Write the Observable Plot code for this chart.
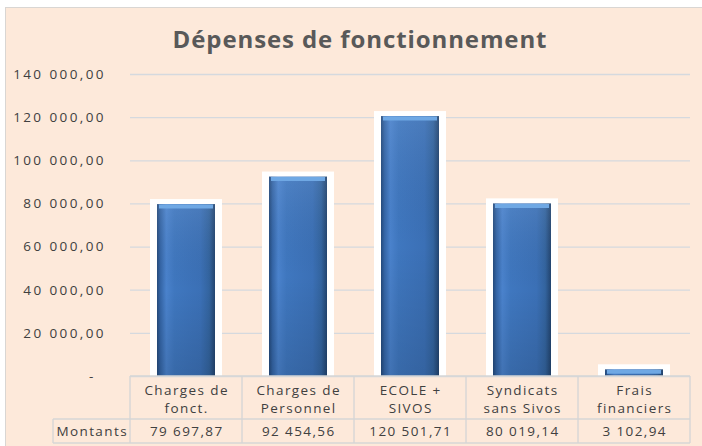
<!DOCTYPE html>
<html><head><meta charset="utf-8">
<script src="https://cdn.jsdelivr.net/npm/d3@7"></script>
<script src="https://cdn.jsdelivr.net/npm/@observablehq/plot@0.6"></script>
<style>
html,body{margin:0;padding:0;background:#fff;}
#wrap{position:relative;width:702px;height:446px;overflow:hidden;background:#fff;}
#bg{position:absolute;left:5px;top:7px;right:0;bottom:0;background:#fde9da;border-left:1.5px solid #d9d6d3;border-top:1.5px solid #d9d6d3;}
#title{position:absolute;left:0;width:720px;top:25px;text-align:center;font:bold 24px "Open Sans",sans-serif;letter-spacing:0.9px;color:#595959;line-height:28px;}
#chart{position:absolute;left:0;top:0;}
</style></head>
<body><div id="wrap"><div id="bg"></div><div id="chart"></div><div id="title">Dépenses de fonctionnement</div></div>
<script>
const categories = ["Charges de\nfonct.", "Charges de\nPersonnel", "ECOLE +\nSIVOS", "Syndicats\nsans Sivos", "Frais\nfinanciers"];
const values = [79697.87, 92454.56, 120501.71, 80019.14, 3102.94];
const seriesName = "Montants";
const yTicks = [0, 20000, 40000, 60000, 80000, 100000, 120000, 140000];

const fr = d3.formatLocale({decimal: ",", thousands: "\u00a0", grouping: [3], currency: ["", " €"]});
const fmt = fr.format(",.2f");
const data = categories.map((c, i) => ({cat: c, value: values[i]}));

const textColor = "#404040";
const lineColor = "#d6d6d6";
const font = '"Open Sans", sans-serif';
const fontSize = 13.5;
const spacing = 1.4;
const axisSpacing = 2.4;

function table(index, scales, vals, dims) {
  const x = scales.x;
  const bw = x.bandwidth ? x.bandwidth() : 0;
  const left = dims.marginLeft, right = dims.width - dims.marginRight;
  const step = (right - left) / categories.length;
  const top = dims.height - dims.marginBottom;
  const mid = top + 43, bot = top + 67;
  const g = d3.create("svg:g");
  const L = (x1, y1, x2, y2) => g.append("line").attr("x1", x1).attr("y1", y1).attr("x2", x2).attr("y2", y2)
    .attr("stroke", lineColor).attr("stroke-width", 1.4);
  L(left, top, right, top);
  L(left - 77, mid, right, mid);
  L(left - 77, bot, right, bot);
  L(left - 77, mid, left - 77, bot);
  for (let i = 0; i <= categories.length; i++) L(left + i * step, top, left + i * step, bot);
  const t = g.append("g").attr("font-family", font).attr("font-size", fontSize).attr("letter-spacing", spacing)
    .attr("fill", textColor).attr("text-anchor", "middle");
  categories.forEach((c, i) => {
    const cx = x(c) + bw / 2 + spacing / 2;
    c.split("\n").forEach((line, j) => t.append("text").attr("x", cx).attr("y", top + 19 + j * 18).text(line));
    t.append("text").attr("x", cx).attr("y", bot - 7).text(fmt(values[i]));
  });
  t.append("text").attr("x", left - 38.5 + spacing / 2).attr("y", bot - 7).text(seriesName);
  return g.node();
}

const plot = Plot.plot({
  width: 702, height: 446,
  marginLeft: 130, marginRight: 12, marginTop: 74, marginBottom: 70,
  style: {background: "transparent", fontFamily: font, fontSize: fontSize + "px", color: textColor, overflow: "visible"},
  x: {domain: categories, paddingInner: 0.48, paddingOuter: 0.24, axis: null},
  y: {domain: [0, 140000], ticks: yTicks, tickFormat: d => d === 0 ? "-\u2007" : fmt(d), tickSize: 0, tickPadding: 27 - axisSpacing, label: null},
  marks: [
    Plot.gridY(yTicks, {stroke: "#d5d9de", strokeOpacity: 1, strokeWidth: 1.3}),
    Plot.barY(data, {x: "cat", y: "value", fill: "white", insetLeft: -7, insetRight: -7, insetTop: -5}),
    Plot.barY(data, {x: "cat", y: "value", fill: "url(#barH)"}),
    Plot.barY(data, {x: "cat", y: "value", fill: "url(#barV)"}),
    Plot.tickY(data, {x: "cat", y: "value", stroke: "#6fa8e4", strokeWidth: 4, dy: 2, insetLeft: 2, insetRight: 2}),
    table
  ]
});
plot.querySelectorAll('[aria-label="y-axis tick label"]').forEach(g => g.setAttribute("letter-spacing", axisSpacing));

const defs = d3.create("svg:defs");
const gh = defs.append("linearGradient").attr("id", "barH").attr("x1", 0).attr("x2", 1).attr("y1", 0).attr("y2", 0);
[[0, "#244a7c"], [0.06, "#3465a6"], [0.16, "#4a82cc"], [0.3, "#3f77bf"], [0.75, "#3b70b6"], [0.9, "#33649f"], [1, "#22446f"]]
  .forEach(([o, c]) => gh.append("stop").attr("offset", o).attr("stop-color", c));
const gv = defs.append("linearGradient").attr("id", "barV").attr("x1", 0).attr("x2", 0).attr("y1", 0).attr("y2", 1);
[[0, "#ffffff", 0.08], [0.5, "#000000", 0], [1, "#000000", 0.12]]
  .forEach(([o, c, a]) => gv.append("stop").attr("offset", o).attr("stop-color", c).attr("stop-opacity", a));
plot.insertBefore(defs.node(), plot.firstChild);
document.getElementById("chart").appendChild(plot);
</script></body></html>
